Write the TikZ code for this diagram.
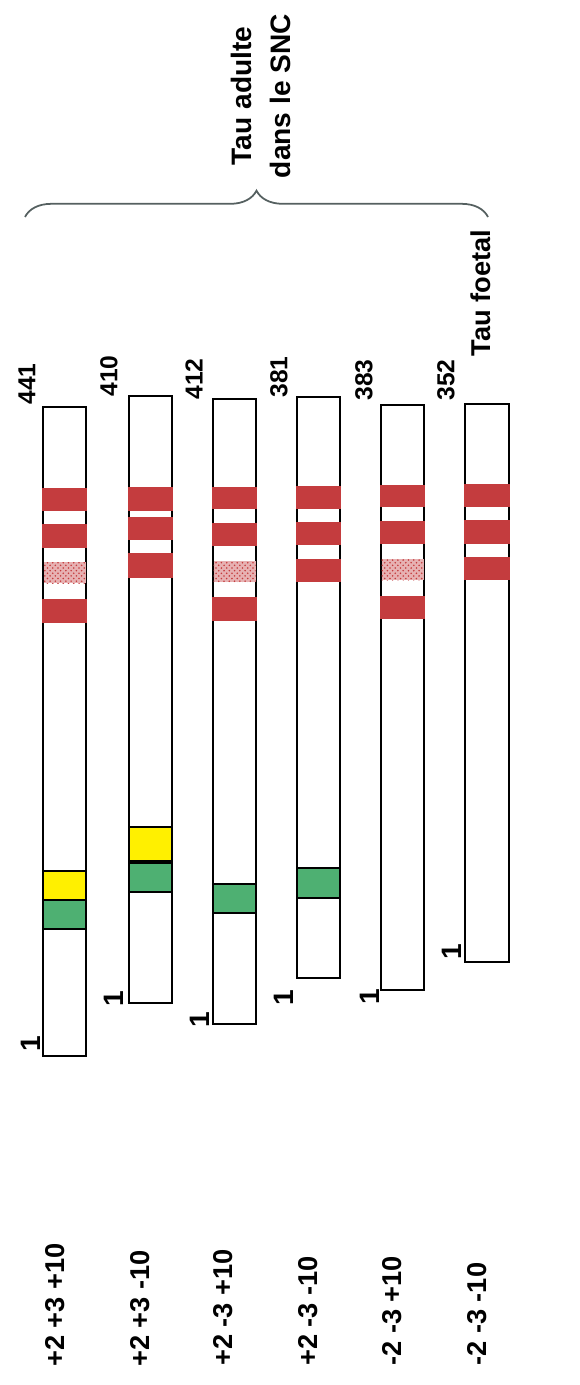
\documentclass[tikz,border=0pt]{standalone}
\usepackage{fontspec}
\setmainfont{Liberation Sans}
\usetikzlibrary{patterns,decorations.pathreplacing}
\definecolor{repred}{RGB}{196,60,62}
\definecolor{insgreen}{RGB}{78,176,114}
\definecolor{insyellow}{RGB}{255,240,0}
\definecolor{bracegray}{RGB}{85,96,96}

\begin{document}
\begin{tikzpicture}[x=0.02cm,y=-0.02cm,
  bar/.style={draw=black,line width=1.1pt,fill=white},
  rep/.style={fill=repred},
  repdot/.style={fill=repred!40,postaction={pattern=crosshatch dots,pattern color=repred}},
  insg/.style={draw=black,line width=1.1pt,fill=insgreen},
  insy/.style={draw=black,line width=1.1pt,fill=insyellow},
  num/.style={font=\bfseries\fontsize{14}{16}\selectfont,rotate=90,inner sep=0pt},
  iso/.style={font=\bfseries\fontsize{15.5}{18}\selectfont,rotate=90,inner sep=0pt,anchor=west},
  ttl/.style={font=\bfseries\fontsize{16}{22}\selectfont,rotate=90,inner sep=0pt,align=center}]
\useasboundingbox (0,0) rectangle (580,1385);

% isoform bars
\draw[bar] (43,407) rectangle (86,1056);
\draw[bar] (129,396) rectangle (172,1003);
\draw[bar] (213,399) rectangle (256,1024);
\draw[bar] (297,397) rectangle (340,978);
\draw[bar] (381,405) rectangle (424,990);
\draw[bar] (465,404) rectangle (509,962);

% repeats
\fill[rep] (42,488) rectangle (87,511);
\fill[rep] (42,524) rectangle (87,548);
\fill[repdot] (43.5,562) rectangle (85.5,583);
\fill[rep] (42,599) rectangle (87,623);

\fill[rep] (128,487) rectangle (173,511);
\fill[rep] (128,517) rectangle (173,540);
\fill[rep] (128,553) rectangle (173,578);

\fill[rep] (212,487) rectangle (257,509);
\fill[rep] (212,523) rectangle (257,546);
\fill[repdot] (213.5,561) rectangle (255.5,582);
\fill[rep] (212,597) rectangle (257,621);

\fill[rep] (296,486) rectangle (341,509);
\fill[rep] (296,522) rectangle (341,545);
\fill[rep] (296,559) rectangle (341,582);

\fill[rep] (380,485) rectangle (425,507);
\fill[rep] (380,521) rectangle (425,544);
\fill[repdot] (381.5,559) rectangle (423.5,580);
\fill[rep] (380,596) rectangle (425,619);

\fill[rep] (464,484) rectangle (510,507);
\fill[rep] (464,520) rectangle (510,544);
\fill[rep] (464,557) rectangle (510,580);

% N-terminal inserts
\draw[insy] (43,871) rectangle (86,900);
\draw[insg] (43,900) rectangle (86,929);
\draw[insy] (129,827) rectangle (172,861);
\draw[insg] (129,863) rectangle (172,892);
\draw[insg] (213,884) rectangle (256,913);
\draw[insg] (297,868) rectangle (340,898);

% lengths
\node[num,anchor=west] (n441) at (27,405) {441};
\node[num,anchor=west] (n410) at (109,397) {410};
\node[num,anchor=west] (n412) at (194,400) {412};
\node[num,anchor=west] (n381) at (279,398) {381};
\node[num,anchor=west] (n383) at (364,401) {383};
\node[num,anchor=west] (n352) at (446,401) {352};

\node[num,font=\bfseries\fontsize{16}{18}\selectfont] (s1) at (31,1044) {1};
\node[num,font=\bfseries\fontsize{16}{18}\selectfont] (s2) at (114,999) {1};
\node[num,font=\bfseries\fontsize{16}{18}\selectfont] (s3) at (200,1020) {1};
\node[num,font=\bfseries\fontsize{16}{18}\selectfont] (s4) at (284,998) {1};
\node[num,font=\bfseries\fontsize{16}{18}\selectfont] (s5) at (370,997) {1};
\node[num,font=\bfseries\fontsize{16}{18}\selectfont] (s6) at (452,952) {1};

% exon combinations
\node[iso] (i1) at (55,1367) {+2 +3 +10};
\node[iso] (i2) at (140,1367) {+2 +3 -10};
\node[iso] (i3) at (223,1366) {+2 -3 +10};
\node[iso] (i4) at (308,1366) {+2 -3 -10};
\node[iso] (i5) at (392,1366) {-2 -3 +10};
\node[iso] (i6) at (477,1366) {-2 -3 -10};

% adult / foetal
\coordinate (bl) at (25,217);
\coordinate (br) at (488,217);
\draw[bracegray,line width=1pt,decorate,decoration={brace,amplitude=15pt}] (bl) -- (br);
\node[ttl] (adult) at (261,96) {Tau adulte\\dans le SNC};
\node[ttl,font=\bfseries\fontsize{15.5}{22}\selectfont] (foetal) at (481,293) {Tau foetal};
\end{tikzpicture}
\end{document}
